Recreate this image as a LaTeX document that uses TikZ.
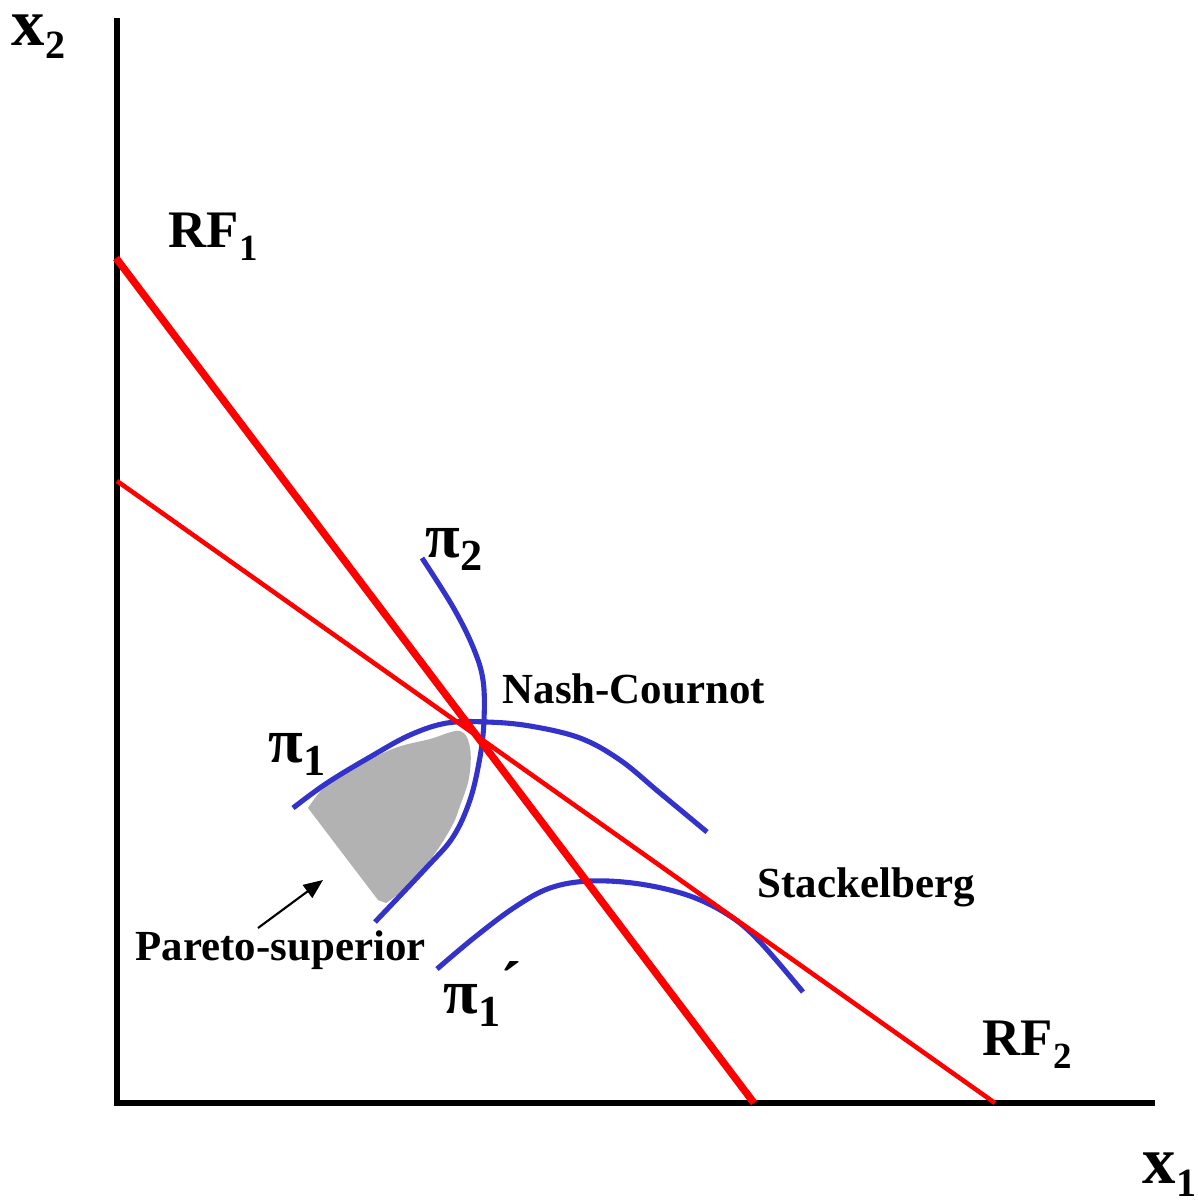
\documentclass[tikz,border=0pt]{standalone}
\usepackage{fontspec}
\setmainfont{Liberation Serif}
\usepackage{graphicx}
\usetikzlibrary{arrows.meta}

\definecolor{isoblue}{RGB}{51,51,204}
\definecolor{paretogray}{RGB}{178,178,178}
\newcommand{\lowsub}[2][0.7]{\raisebox{-3.7pt}{\scalebox{#1}{#2}}}

\begin{document}
\begin{tikzpicture}[
    x=0.01cm, y=-0.01cm,
    axis/.style={line width=1.6pt, black},
    rfthick/.style={line width=2.1pt, red},
    rfthin/.style={line width=1.3pt, red},
    iso/.style={line width=1.45pt, isoblue},
    lbl/.style={font=\bfseries\fontsize{12.2}{14}\selectfont, inner sep=0pt, anchor=base west},
    rflbl/.style={font=\bfseries\fontsize{15}{17}\selectfont, inner sep=0pt, anchor=base west},
    axlbl/.style={font=\bfseries\fontsize{19}{21}\selectfont, inner sep=0pt, anchor=base west},
    greek/.style={font=\bfseries\fontsize{18}{20}\selectfont, inner sep=0pt, anchor=base west}
]
\useasboundingbox (0,0) rectangle (1198,1203);

% ====================
% Assi
% ====================
\coordinate (O) at (117,1103);
\coordinate (ytop) at (117,18);
\coordinate (xend) at (1155,1103);
\draw[axis] (ytop) -- (O) -- (xend);

\node[axlbl] (x2lab) at (11,45) {x\lowsub[0.6]{2}};
\node[axlbl] (x1lab) at (1142,1183) {x\lowsub[0.6]{1}};

% ====================
% Regione Pareto-superiore
% ====================
\fill[paretogray] (378,900) -- plot[smooth, tension=0.6] coordinates {
    (308,808) (326,786) (360,765) (395,748) (430,739) (460,731)
    (470,748) (469,778) (460,806) (452,826) (433,856) (405,888) (386,903)} -- cycle;

% ====================
% Curve di isoprofitto
% ====================
\draw[iso] plot[smooth, tension=0.6] coordinates {
    (422,558) (453,607) (473,647) (483,680) (484,720) (480,757)
    (470,800) (453,837) (427,867) (375,922)};
\draw[iso] plot[smooth, tension=0.6] coordinates {
    (293,808) (327,783) (370,757) (410,735) (447,723) (487,722)
    (530,726) (580,738) (620,760) (660,793) (707,832)};
\draw[iso] plot[smooth, tension=0.6] coordinates {
    (437,969) (475,937) (515,907) (550,888) (590,881) (640,884)
    (690,896) (730,916) (760,942) (803,992)};

% ====================
% Funzioni di reazione
% ====================
\coordinate (rf1a) at (116,258);
\coordinate (rf1b) at (754,1103);
\coordinate (rf2a) at (117,481);
\coordinate (rf2b) at (995,1103);
\draw[rfthick] (rf1a) -- (rf1b);
\draw[rfthin] (rf2a) -- (rf2b);

% ====================
% Etichette
% ====================
\node[rflbl] (rf1lab) at (168,247) {RF\lowsub{1}};
\node[rflbl] (rf2lab) at (982,1055) {RF\lowsub{2}};

\node[greek] (pi2lab) at (425,557) {π\lowsub{2}};
\node[greek] (pi1lab) at (268,762) {π\lowsub{1}};
\node[greek] (pi1plab) at (443,1013) {π\lowsub{1}\raisebox{2pt}{´}};

\node[lbl] (nash) at (502,703) {Nash-Cournot};
\node[lbl] (stack) at (757,897) {Stackelberg};
\node[lbl] (pareto) at (135,960) {Pareto-superior};

% Freccia verso la regione
\coordinate (arrtail) at (258,928);
\coordinate (arrtip) at (323,880);
\draw[line width=0.6pt, -{Triangle[length=5.5pt, width=4.5pt]}] (arrtail) -- (arrtip);

\end{tikzpicture}
\end{document}
